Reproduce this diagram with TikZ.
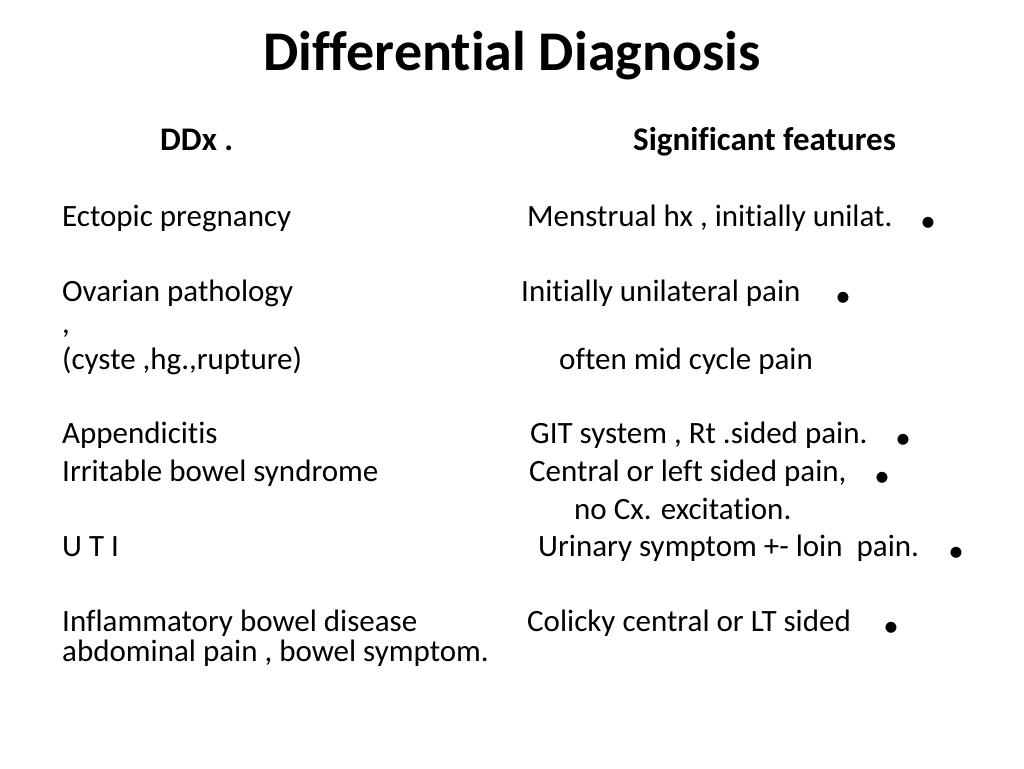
\documentclass[tikz,border=0pt]{standalone}
\usepackage{fontspec}
\setmainfont{Carlito}[Ligatures=CommonOff]
\begin{document}
\begin{tikzpicture}[x=1pt,y=-1pt,
  txt/.style={anchor=west,inner sep=0pt,text height=0.7em,text depth=0.2em,font=\fontsize{31}{36}\selectfont},
  hdr/.style={anchor=west,inner sep=0pt,text height=0.7em,text depth=0.2em,font=\fontsize{33}{38}\selectfont\bfseries},
  bul/.style={inner sep=0pt,font=\fontsize{31}{36}\selectfont}]
\useasboundingbox (0,0) rectangle (1024,768);
\node[inner sep=0pt,text height=0.7em,text depth=0.2em,font=\fontsize{56}{64}\selectfont\bfseries] (title) at (512,68) {Differential Diagnosis};
\node[hdr] (h1) at (160,148) {DDx .};
\node[hdr] (h2) at (633,148) {Significant features};
\node[txt] (a1) at (62,224) {Ectopic pregnancy};
\node[txt] (b1) at (527,224) {Menstrual hx , initially unilat.};
\node[bul] (c1) at (928,224) {•};
\node[txt] (a2) at (62,299) {Ovarian pathology};
\node[txt] (b2) at (521,299) {Initially unilateral pain};
\node[bul] (c2) at (843,299) {•};
\node[txt] (a3) at (62,331) {,};
\node[txt] (a4) at (62,367) {(cyste ,hg.,rupture)};
\node[txt] (b4) at (559,367) {often mid cycle pain};
\node[txt] (a5) at (62,441) {Appendicitis};
\node[txt] (b5) at (530,441) {GIT system , Rt .sided pain.};
\node[bul] (c5) at (903,441) {•};
\node[txt] (a6) at (62,479) {Irritable bowel syndrome};
\node[txt] (b6) at (529,479) {Central or left sided pain,};
\node[bul] (c6) at (882,479) {•};
\node[txt] (b7) at (574,517) {no Cx. excitation.};
\node[txt] (a8) at (62,554) {U T I};
\node[txt] (b8) at (538,554) {Urinary symptom +- loin\ \ pain.};
\node[bul] (c8) at (956,554) {•};
\node[txt] (a9) at (62,629) {Inflammatory bowel disease};
\node[txt] (b9) at (527,629) {Colicky central or LT sided};
\node[bul] (c9) at (891,629) {•};
\node[txt] (a10) at (62,659) {abdominal pain , bowel symptom.};
\end{tikzpicture}
\end{document}
